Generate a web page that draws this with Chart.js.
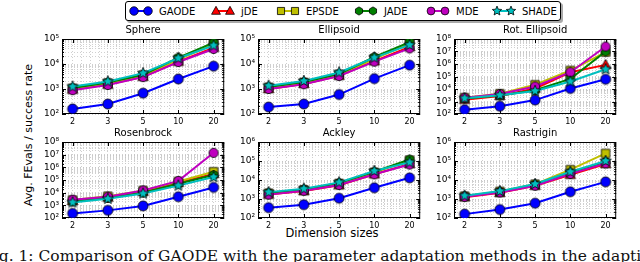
<!DOCTYPE html>
<html>
<head>
<meta charset="utf-8">
<script src="https://cdn.jsdelivr.net/npm/chart.js@4"></script>
<style>
  html, body { margin: 0; padding: 0; background: #fff; }
  body { width: 640px; height: 262px; position: relative; overflow: hidden; font-family: 'DejaVu Sans', sans-serif; }
  canvas.panel { position: absolute; }
  #legend { position: absolute; left: 125px; top: 1px; width: 434px; height: 18px; border: 1px solid #000; border-radius: 3px; box-shadow: 2px 2px 0 #aaa; background: #fff; }
  #legend .item { position: absolute; top: 0; height: 18px; display: flex; align-items: center; font-size: 10px; color: #000; }
  #legend canvas { margin-right: 6px; }
  .ylabel { position: absolute; left: 28px; top: 135px; transform: translate(-50%, -50%) rotate(-90deg); font-size: 11px; white-space: nowrap; color: #000; }
  .xlabel { position: absolute; left: 332px; top: 233px; transform: translate(-50%, -50%); font-size: 11.5px; white-space: nowrap; color: #000; }
  .caption { position: absolute; left: -17px; top: 247px; font-family: 'DejaVu Serif', serif; font-size: 15.5px; white-space: nowrap; color: #111; }
</style>
</head>
<body>
<div id="legend"></div>
<div class="ylabel">Avg. FEvals / success rate</div>
<div class="xlabel">Dimension sizes</div>
<div class="caption">Fig. 1: Comparison of GAODE with the parameter adaptation methods in the adaptive</div>

<script>
// dimension sizes (x categories) and methods
const dims = ['2', '3', '5', '10', '20'];
const methods = ['GAODE', 'jDE', 'EPSDE', 'JADE', 'MDE', 'SHADE'];

// avg FEvals / success rate, rows follow `methods`
const sphere = [
  [160, 250, 680, 2500, 8200],
  [950, 1500, 3100, 12500, 45000],
  [1050, 1700, 3500, 15000, 62000],
  [1100, 1800, 3700, 18000, 72000],
  [900, 1450, 3000, 12000, 40000],
  [1250, 2000, 4300, 17000, 55000]
];
const ellipsoid = [
  [190, 250, 600, 2600, 9000],
  [1000, 1600, 3400, 13000, 48000],
  [1150, 1800, 3800, 16000, 65000],
  [1200, 1900, 4000, 19000, 75000],
  [1000, 1550, 3300, 12500, 42000],
  [1350, 2100, 4600, 18000, 58000]
];
const rotEllipsoid = [
  [220, 420, 1300, 11000, 60000],
  [1400, 2800, 11000, 220000, 850000],
  [2000, 4200, 22000, 300000, 9000000],
  [1700, 3000, 8000, 65000, 10000000],
  [2000, 4000, 16000, 220000, 25000000],
  [1800, 3200, 7000, 40000, 380000]
];
const rosenbrock = [
  [230, 400, 900, 4800, 26000],
  [2200, 4200, 12000, 60000, 300000],
  [2600, 5200, 14500, 75000, 450000],
  [2000, 3800, 10000, 50000, 250000],
  [2800, 4800, 15000, 85000, 14000000],
  [1700, 3300, 8500, 36000, 170000]
];
const ackley = [
  [350, 500, 1100, 3900, 13000],
  [1700, 2600, 5300, 20000, 70000],
  [2000, 3000, 6500, 25000, 110000],
  [2100, 3200, 7000, 27000, 120000],
  [1700, 2700, 5500, 20000, 65000],
  [2300, 3500, 7500, 30000, 85000]
];
const rastrigin = [
  [160, 280, 600, 2400, 8000],
  [1250, 2100, 5000, 19000, 70000],
  [1400, 2500, 6000, 35000, 250000],
  [1400, 2400, 5800, 25000, 90000],
  [1300, 2200, 5000, 21000, 75000],
  [1500, 2600, 6200, 27000, 100000]
];

// styles
const colors = ['#0000ff', '#ff0000', '#bfbf00', '#008000', '#bf00bf', '#00bfbf'];
const shapes = ['circle', 'triangle', 'square', 'hexagon', 'circle', 'star'];
const sizes = [5, 5.5, 4.2, 4.8, 4.6, 5.8];

// panels: title, data, y max, plot area (left, top, width, height)
const panels = [
  { title: 'Sphere', data: sphere, ymax: 1e5, area: [62, 39, 164, 75] },
  { title: 'Ellipsoid', data: ellipsoid, ymax: 1e5, area: [258, 39, 164, 75] },
  { title: 'Rot. Ellipsoid', data: rotEllipsoid, ymax: 1e8, area: [454, 39, 164, 75] },
  { title: 'Rosenbrock', data: rosenbrock, ymax: 1e8, area: [62, 142, 164, 76] },
  { title: 'Ackley', data: ackley, ymax: 1e6, area: [258, 142, 164, 76] },
  { title: 'Rastrigin', data: rastrigin, ymax: 1e6, area: [454, 142, 164, 76] }
];

const SUP = '⁰¹²³⁴⁵⁶⁷⁸⁹';
const isPow10 = v => { const l = Math.log10(v); return Math.abs(l - Math.round(l)) < 1e-9; };

function drawMarker(g, shape, x, y, r, fill) {
  g.fillStyle = fill;
  g.strokeStyle = '#000';
  g.lineWidth = 0.8;
  g.beginPath();
  if (shape === 'circle') {
    g.arc(x, y, r, 0, Math.PI * 2);
  } else if (shape === 'square') {
    g.rect(x - r, y - r, 2 * r, 2 * r);
  } else if (shape === 'triangle') {
    g.moveTo(x, y - r);
    g.lineTo(x + r * 0.95, y + r * 0.7);
    g.lineTo(x - r * 0.95, y + r * 0.7);
  } else if (shape === 'hexagon') {
    for (let k = 0; k < 6; k++) {
      const a = Math.PI / 2 + k * Math.PI / 3;
      g.lineTo(x + r * Math.cos(a), y - r * Math.sin(a));
    }
  } else if (shape === 'star') {
    for (let k = 0; k < 10; k++) {
      const rr = k % 2 ? r * 0.45 : r;
      const a = Math.PI / 2 + k * Math.PI / 5;
      g.lineTo(x + rr * Math.cos(a), y - rr * Math.sin(a));
    }
  }
  g.closePath();
  g.fill();
  g.stroke();
}

function markerCanvas(i) {
  const s = 14;
  const c = document.createElement('canvas');
  c.width = c.height = s;
  drawMarker(c.getContext('2d'), shapes[i], s / 2, s / 2, sizes[i], colors[i]);
  return c;
}
const markers = methods.map((m, i) => markerCanvas(i));

// legend
const legendX = [3, 85, 150, 228, 300, 366];
const legend = document.getElementById('legend');
methods.forEach((m, i) => {
  const item = document.createElement('div');
  item.className = 'item';
  item.style.left = legendX[i] + 'px';
  const c = document.createElement('canvas');
  c.width = 24; c.height = 12;
  const g = c.getContext('2d');
  g.strokeStyle = colors[i];
  g.lineWidth = 2;
  g.beginPath(); g.moveTo(5, 6); g.lineTo(19, 6); g.stroke();
  drawMarker(g, shapes[i], 5, 6, sizes[i] * 0.85, colors[i]);
  drawMarker(g, shapes[i], 19, 6, sizes[i] * 0.85, colors[i]);
  item.appendChild(c);
  const t = document.createElement('span');
  t.textContent = m;
  item.appendChild(t);
  legend.appendChild(item);
});

// frame with inward ticks, like matplotlib
const framePlugin = {
  id: 'frame',
  beforeDatasetsDraw(chart) {
    const { ctx, chartArea: a, scales: { x, y } } = chart;
    ctx.save();
    ctx.strokeStyle = '#000';
    ctx.lineWidth = 1;
    ctx.beginPath();
    y.ticks.forEach(t => {
      const py = Math.round(y.getPixelForValue(t.value)) + 0.5;
      const len = isPow10(t.value) ? 4 : 2;
      ctx.moveTo(a.left, py); ctx.lineTo(a.left + len, py);
      ctx.moveTo(a.right, py); ctx.lineTo(a.right - len, py);
    });
    x.ticks.forEach(t => {
      if (!Number.isInteger(t.value)) return;
      const px = Math.round(x.getPixelForValue(t.value)) + 0.5;
      ctx.moveTo(px, a.bottom); ctx.lineTo(px, a.bottom - 4);
      ctx.moveTo(px, a.top); ctx.lineTo(px, a.top + 4);
    });
    ctx.stroke();
    ctx.strokeRect(a.left + 0.5, a.top + 0.5, a.width - 1, a.height - 1);
    ctx.restore();
  }
};

Chart.defaults.font.family = "'DejaVu Sans', sans-serif";
Chart.defaults.color = '#000';

const TITLE_H = 16, XAXIS_H = 14, YAXIS_W = 30, RIGHT_PAD = 6;

panels.forEach(p => {
  const [left, top, w, h] = p.area;
  const canvas = document.createElement('canvas');
  canvas.className = 'panel';
  canvas.width = w + YAXIS_W + RIGHT_PAD;
  canvas.height = h + TITLE_H + XAXIS_H;
  canvas.style.left = (left - YAXIS_W) + 'px';
  canvas.style.top = (top - TITLE_H) + 'px';
  document.body.appendChild(canvas);

  new Chart(canvas, {
    type: 'line',
    data: {
      datasets: methods.map((m, i) => ({
        label: m,
        data: p.data[i].map((v, k) => ({ x: k, y: v })),
        borderColor: colors[i],
        backgroundColor: colors[i],
        borderWidth: 2,
        pointStyle: markers[i],
        pointRadius: sizes[i],
        tension: 0,
        order: methods.length - 1 - i
      }))
    },
    options: {
      responsive: false,
      animation: false,
      layout: { padding: { top: 0, left: 0, bottom: 0, right: RIGHT_PAD } },
      plugins: {
        legend: { display: false },
        tooltip: { enabled: false },
        title: {
          display: true,
          text: p.title,
          fullSize: false,
          color: '#000',
          font: { size: 10, weight: 'normal' },
          padding: { top: 1, bottom: 3 }
        }
      },
      scales: {
        x: {
          type: 'linear',
          min: -0.3,
          max: dims.length - 0.7,
          afterBuildTicks(scale) {
            const ticks = [];
            for (let v = -0.25; v <= dims.length - 0.74; v += 0.25) ticks.push({ value: Math.round(v * 100) / 100 });
            scale.ticks = ticks;
          },
          afterFit(scale) { scale.height = XAXIS_H; },
          ticks: {
            autoSkip: false,
            maxRotation: 0,
            padding: 3,
            font: { size: 8 },
            callback: v => (Number.isInteger(v) ? dims[v] : '')
          },
          grid: { color: '#c4c4c4', lineWidth: 0.8, drawTicks: false },
          border: { display: false, dash: [1, 2] }
        },
        y: {
          type: 'logarithmic',
          min: 100,
          max: p.ymax,
          afterBuildTicks(scale) {
            const ticks = [];
            const lo = Math.round(Math.log10(scale.min));
            const hi = Math.round(Math.log10(scale.max));
            for (let d = lo; d <= hi; d++) {
              for (let k = 1; k <= 9; k++) {
                if (d === hi && k > 1) break;
                ticks.push({ value: k * Math.pow(10, d) });
              }
            }
            scale.ticks = ticks;
          },
          afterFit(scale) { scale.width = YAXIS_W; },
          ticks: {
            autoSkip: false,
            padding: 3,
            font: { size: 9 },
            callback: v => {
              if (!isPow10(v)) return '';
              const e = String(Math.round(Math.log10(v)));
              return '10' + e.split('').map(c => SUP[+c]).join('');
            }
          },
          grid: { color: '#c4c4c4', lineWidth: 0.8, drawTicks: false },
          border: { display: false, dash: [1, 2] }
        }
      }
    },
    plugins: [framePlugin]
  });
});
</script>
</body>
</html>
